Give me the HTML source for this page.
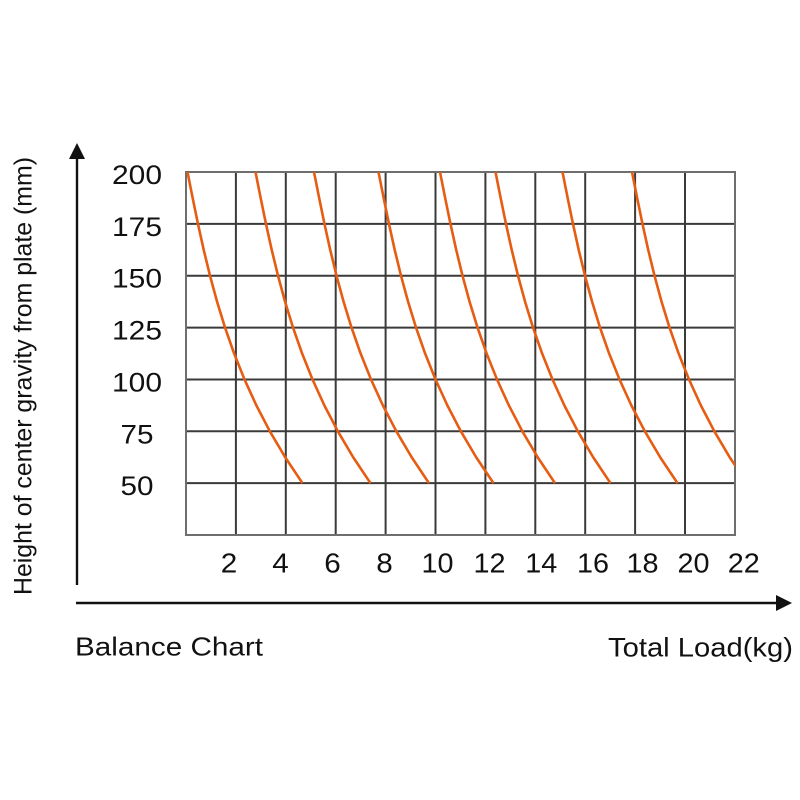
<!DOCTYPE html>
<html>
<head>
<meta charset="utf-8">
<style>
  html, body { margin: 0; padding: 0; background: #ffffff; }
  svg { display: block; }
  text { font-family: "Liberation Sans", Arial, sans-serif; fill: #111; }
</style>
</head>
<body>
<svg width="800" height="800" viewBox="0 0 800 800" xmlns="http://www.w3.org/2000/svg">
  <rect x="0" y="0" width="800" height="800" fill="#ffffff"/>
  <defs>
    <clipPath id="gridclip">
      <rect x="180" y="165" width="555" height="375"/>
    </clipPath>
    <polyline id="crv" fill="none" stroke="#e65c12" stroke-width="2.6" stroke-linejoin="round" stroke-linecap="butt"
      points="0,172 5.13,197.93 10.47,223.86 16.2,249.79 22.5,275.72 29.55,301.65 37.53,327.58 46.62,353.51 57,379.44 68.85,405.37 82.35,431.3 97.68,457.23 115,483.16"/>
  </defs>

  <!-- inner grid lines -->
  <g stroke="#3a3a3a" stroke-width="2">
    <line x1="235.9" y1="172" x2="235.9" y2="535"/>
    <line x1="285.8" y1="172" x2="285.8" y2="535"/>
    <line x1="335.7" y1="172" x2="335.7" y2="535"/>
    <line x1="385.6" y1="172" x2="385.6" y2="535"/>
    <line x1="435.5" y1="172" x2="435.5" y2="535"/>
    <line x1="485.4" y1="172" x2="485.4" y2="535"/>
    <line x1="535.3" y1="172" x2="535.3" y2="535"/>
    <line x1="585.2" y1="172" x2="585.2" y2="535"/>
    <line x1="635.1" y1="172" x2="635.1" y2="535"/>
    <line x1="685" y1="172" x2="685" y2="535"/>

    <line x1="186" y1="223.86" x2="735" y2="223.86"/>
    <line x1="186" y1="275.72" x2="735" y2="275.72"/>
    <line x1="186" y1="327.58" x2="735" y2="327.58"/>
    <line x1="186" y1="379.44" x2="735" y2="379.44"/>
    <line x1="186" y1="431.3" x2="735" y2="431.3"/>
    <line x1="186" y1="483.16" x2="735" y2="483.16"/>
  </g>
  <!-- border -->
  <rect x="186" y="172" width="549" height="363" fill="none" stroke="#6e6e6e" stroke-width="2"/>

  <!-- curves -->
  <g clip-path="url(#gridclip)">
    <use href="#crv" x="187.5"/>
    <use href="#crv" x="255.5"/>
    <use href="#crv" x="314"/>
    <use href="#crv" x="378.5"/>
    <use href="#crv" x="440"/>
    <use href="#crv" x="495.5"/>
    <use href="#crv" x="562.5"/>
    <use href="#crv" x="632"/>
  </g>

  <!-- axes arrows -->
  <g stroke="#111" stroke-width="2.4">
    <line x1="77" y1="585" x2="77" y2="156"/>
    <line x1="76" y1="603" x2="778" y2="603"/>
  </g>
  <polygon points="77,143 69,159 85,159" fill="#111"/>
  <polygon points="792,603 776,595 776,611" fill="#111"/>

  <!-- y tick labels -->
  <g font-size="27" text-anchor="middle">
    <text x="137" y="184" textLength="50" lengthAdjust="spacingAndGlyphs">200</text>
    <text x="137" y="235.9" textLength="50" lengthAdjust="spacingAndGlyphs">175</text>
    <text x="137" y="287.7" textLength="50" lengthAdjust="spacingAndGlyphs">150</text>
    <text x="137" y="339.6" textLength="50" lengthAdjust="spacingAndGlyphs">125</text>
    <text x="137" y="391.4" textLength="50" lengthAdjust="spacingAndGlyphs">100</text>
    <text x="137" y="443.3" textLength="33" lengthAdjust="spacingAndGlyphs">75</text>
    <text x="137" y="495.2" textLength="33" lengthAdjust="spacingAndGlyphs">50</text>
  </g>

  <!-- x tick labels -->
  <g font-size="27.5" text-anchor="middle">
    <text x="229" y="572.5" textLength="16.5" lengthAdjust="spacingAndGlyphs">2</text>
    <text x="280.5" y="572.5" textLength="16.5" lengthAdjust="spacingAndGlyphs">4</text>
    <text x="332.5" y="572.5" textLength="16.5" lengthAdjust="spacingAndGlyphs">6</text>
    <text x="384.5" y="572.5" textLength="16.5" lengthAdjust="spacingAndGlyphs">8</text>
    <text x="437.5" y="572.5" textLength="32" lengthAdjust="spacingAndGlyphs">10</text>
    <text x="489.5" y="572.5" textLength="32" lengthAdjust="spacingAndGlyphs">12</text>
    <text x="541.3" y="572.5" textLength="32" lengthAdjust="spacingAndGlyphs">14</text>
    <text x="593" y="572.5" textLength="32" lengthAdjust="spacingAndGlyphs">16</text>
    <text x="642.5" y="572.5" textLength="32" lengthAdjust="spacingAndGlyphs">18</text>
    <text x="693.5" y="572.5" textLength="32" lengthAdjust="spacingAndGlyphs">20</text>
    <text x="743.8" y="572.5" textLength="32" lengthAdjust="spacingAndGlyphs">22</text>
  </g>

  <!-- titles -->
  <text x="75" y="655.5" font-size="26" textLength="188" lengthAdjust="spacingAndGlyphs">Balance Chart</text>
  <text x="608" y="656.5" font-size="27" textLength="185" lengthAdjust="spacingAndGlyphs">Total Load(kg)</text>

  <!-- y axis label -->
  <text transform="translate(31.5,376) rotate(-90)" font-size="25" text-anchor="middle" textLength="438" lengthAdjust="spacingAndGlyphs">Height of center gravity from plate (mm)</text>
</svg>
</body>
</html>
